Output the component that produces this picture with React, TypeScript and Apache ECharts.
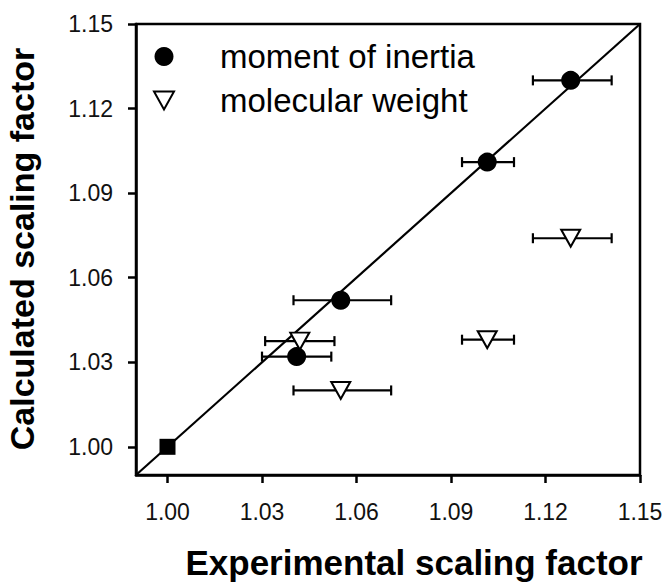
import React, { useEffect, useRef } from "react";
import * as echarts from "echarts";

// Axis ticks shared by both axes
const tickValues = [1.0, 1.03, 1.06, 1.09, 1.12, 1.15];
const axisMin = 0.99;
const axisMax = 1.15;

// Reference line y = x across the whole plot
const identityLine = [
  [0.99, 0.99],
  [1.15, 1.15],
];

// Moment of inertia: experimental (x) vs calculated (y) with x error range
const momentX = [1.041, 1.055, 1.1015, 1.128];
const momentY = [1.032, 1.052, 1.101, 1.13];
const momentXLow = [1.03, 1.04, 1.0935, 1.116];
const momentXHigh = [1.052, 1.071, 1.11, 1.141];

// Molecular weight
const weightX = [1.042, 1.055, 1.1015, 1.128];
const weightY = [1.0375, 1.02, 1.038, 1.074];
const weightXLow = [1.031, 1.04, 1.0935, 1.116];
const weightXHigh = [1.053, 1.071, 1.11, 1.141];

// Reference point
const refPoint = [[1.0, 1.0]];

const FONT = "'Liberation Sans', Arial, Helvetica, sans-serif";
const DOWN_TRIANGLE = "path://M0,0 L20,0 L10,18 Z";

function errorBarData(xs: number[], ys: number[], lo: number[], hi: number[]) {
  return xs.map((_, i) => [lo[i], ys[i], hi[i]]);
}

function errorBarSeries(data: number[][]) {
  return {
    type: "custom",
    z: 2,
    silent: true,
    encode: { x: [0, 2], y: 1 },
    data,
    renderItem: (_params: any, api: any) => {
      const y = api.value(1);
      const a = api.coord([api.value(0), y]);
      const b = api.coord([api.value(2), y]);
      const cap = 5;
      const style = { stroke: "#000", lineWidth: 2.2 };
      return {
        type: "group",
        children: [
          { type: "line", shape: { x1: a[0], y1: a[1], x2: b[0], y2: b[1] }, style },
          { type: "line", shape: { x1: a[0], y1: a[1] - cap, x2: a[0], y2: a[1] + cap }, style },
          { type: "line", shape: { x1: b[0], y1: b[1] - cap, x2: b[0], y2: b[1] + cap }, style },
        ],
      };
    },
  };
}

export default function App() {
  const ref = useRef<HTMLDivElement>(null);

  useEffect(() => {
    if (!ref.current) return;
    const chart = echarts.init(ref.current, undefined, { renderer: "svg" });

    const axisCommon = {
      type: "value",
      min: axisMin,
      max: axisMax,
      splitLine: { show: false },
      axisLine: { show: true, lineStyle: { color: "#000", width: 2.5 } },
      axisTick: {
        show: true,
        inside: false,
        length: 8,
        customValues: tickValues,
        lineStyle: { color: "#000", width: 2.5 },
      },
      axisLabel: {
        customValues: tickValues,
        formatter: (v: number) => v.toFixed(2),
        fontFamily: FONT,
        fontSize: 23,
        color: "#111",
      },
    };

    chart.setOption({
      animation: false,
      backgroundColor: "#fff",
      grid: {
        left: 136,
        right: 26,
        top: 24,
        bottom: 109,
        show: true,
        borderColor: "#000",
        borderWidth: 2.5,
      },
      xAxis: { ...axisCommon, axisLabel: { ...axisCommon.axisLabel, margin: 25 } },
      yAxis: { ...axisCommon, axisLabel: { ...axisCommon.axisLabel, margin: 23 } },
      legend: {
        orient: "vertical",
        left: 148,
        top: 35,
        itemWidth: 20,
        itemHeight: 19,
        itemGap: 11,
        data: ["moment of inertia", "molecular weight"],
        textStyle: {
          fontFamily: FONT,
          fontSize: 33,
          color: "#000",
          padding: [0, 0, 0, 41],
        },
      },
      graphic: [
        {
          type: "text",
          x: 414,
          y: 562,
          style: {
            text: "Experimental scaling factor",
            fontFamily: FONT,
            fontWeight: "bold",
            fontSize: 35,
            fill: "#000",
            textAlign: "center",
            textVerticalAlign: "middle",
          },
        },
        {
          type: "text",
          x: 22,
          y: 249,
          rotation: Math.PI / 2,
          style: {
            text: "Calculated scaling factor",
            fontFamily: FONT,
            fontWeight: "bold",
            fontSize: 34,
            fill: "#000",
            textAlign: "center",
            textVerticalAlign: "middle",
          },
        },
      ],
      series: [
        {
          type: "line",
          data: identityLine,
          symbol: "none",
          silent: true,
          z: 1,
          lineStyle: { color: "#000", width: 2.2 },
        },
        errorBarSeries(errorBarData(momentX, momentY, momentXLow, momentXHigh)),
        errorBarSeries(errorBarData(weightX, weightY, weightXLow, weightXHigh)),
        {
          name: "moment of inertia",
          type: "scatter",
          z: 5,
          symbol: "circle",
          symbolSize: 19,
          itemStyle: { color: "#000", opacity: 1 },
          data: momentX.map((x, i) => [x, momentY[i]]),
        },
        {
          name: "molecular weight",
          type: "scatter",
          z: 5,
          symbol: DOWN_TRIANGLE,
          symbolSize: [19, 17],
          itemStyle: { color: "#fff", borderColor: "#000", borderWidth: 2, opacity: 1 },
          data: weightX.map((x, i) => [x, weightY[i]]),
        },
        {
          type: "scatter",
          z: 5,
          symbol: "rect",
          symbolSize: 16,
          itemStyle: { color: "#000", opacity: 1 },
          data: refPoint,
        },
      ],
    });

    return () => chart.dispose();
  }, []);

  return (
    <div
      ref={ref}
      style={{ position: "absolute", left: 0, top: 0, width: 666, height: 584 }}
    />
  );
}
